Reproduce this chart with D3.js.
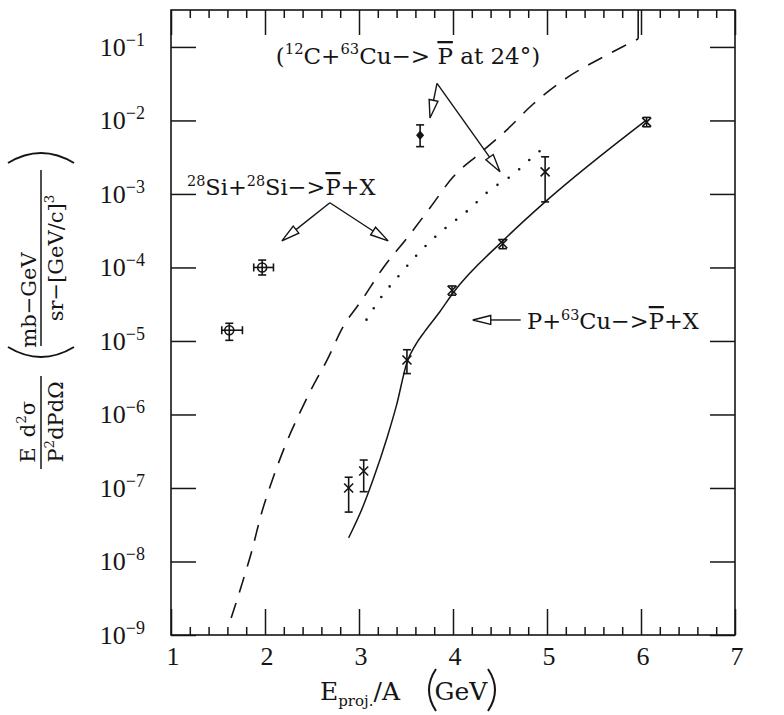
<!DOCTYPE html>
<html>
  <head>
    <meta charset="utf-8">
    <style>
      body { margin: 0; background: #fff; }
      svg { display: block; }
      text { font-family: "DejaVu Serif", serif; fill: #151515; }
      .tick-label { font-family: "Liberation Serif", serif; }
    </style>
    <script src="https://d3js.org/d3.v7.min.js"></script>
  </head>
  <body>
    <script type="text/javascript">
      // antiproton production cross sections vs projectile energy per nucleon
      const W = 784;
      const H = 715;

      // tick labels
      const xTicks = [1, 2, 3, 4, 5, 6, 7];
      const yTicks = [1e-9, 1e-8, 1e-7, 1e-6, 1e-5, 1e-4, 1e-3, 1e-2, 1e-1];
      const yTickExp = ['9', '8', '7', '6', '5', '4', '3', '2', '1'];

      // p + 63Cu -> pbar + X, measured
      const pcuE = [2.89, 3.05, 3.51, 3.99, 4.53, 4.98, 6.06];
      const pcuXsec = [1.0e-7, 1.7e-7, 5.5e-6, 4.9e-5, 2.1e-4, 2.0e-3, 9.5e-3];
      const pcuLow = [4.7e-8, 8.9e-8, 3.6e-6, 4.2e-5, 1.8e-4, 7.8e-4, 8.2e-3];
      const pcuHigh = [1.4e-7, 2.4e-7, 7.6e-6, 5.6e-5, 2.4e-4, 3.2e-3, 1.1e-2];

      // 28Si + 28Si -> pbar + X, measured
      const siE = [1.62, 1.97];
      const siELow = [1.54, 1.88];
      const siEHigh = [1.76, 2.09];
      const siXsec = [1.4e-5, 1.0e-4];
      const siLow = [1.02e-5, 7.9e-5];
      const siHigh = [1.74e-5, 1.26e-4];

      // 12C + 63Cu -> pbar at 24 deg, measured
      const cE = [3.65];
      const cXsec = [6.3e-3];
      const cLow = [4.4e-3];
      const cHigh = [8.7e-3];

      // calculations
      const siCalcE = [1.64, 1.75, 1.86, 1.96, 2.07, 2.23, 2.37, 2.50, 2.66, 2.83, 3.03, 3.26,
        3.51, 3.76, 4.00, 4.29, 4.57, 4.85, 5.21, 5.59, 5.80, 5.97];
      const siCalcXsec = [1.7e-9, 4.7e-9, 1.4e-8, 4.4e-8, 1.2e-7, 4.2e-7, 1.05e-6, 2.3e-6, 5.5e-6,
        1.55e-5, 3.6e-5, 1.0e-4, 2.5e-4, 6.6e-4, 1.7e-3, 3.6e-3, 7.4e-3, 1.66e-2, 3.8e-2, 7.2e-2,
        0.10, 0.129];
      const siCalcTop = 0.318;

      const cCalcE = [3.08, 3.24, 3.43, 3.62, 3.83, 4.16, 4.39, 4.63, 4.85, 4.98];
      const cCalcXsec = [1.95e-5, 4.0e-5, 7.9e-5, 1.5e-4, 2.75e-4, 6.0e-4, 1.12e-3, 1.8e-3,
        3.2e-3, 4.4e-3];

      const pcuCalcE = [2.89, 3.04, 3.15, 3.30, 3.40, 3.51, 3.60, 3.70, 3.86, 4.00, 4.53, 4.98, 6.06];
      const pcuCalcXsec = [2.1e-8, 5.5e-8, 1.3e-7, 4.9e-7, 1.35e-6, 5.1e-6, 8.8e-6, 1.35e-5,
        2.5e-5, 4.5e-5, 2.3e-4, 7.8e-4, 1.02e-2];

      const svg = d3.select('body')
        .append('svg')
        .attr('width', W)
        .attr('height', H);

      const x = d3.scaleLinear().domain([1, 7]).range([171, 735]);
      const y = d3.scaleLog().domain([1e-9, 0.318]).range([635, 10]);

      // ticks
      const xMinor = d3.range(1, 7.001, 0.2).filter((v) => Math.abs(v - Math.round(v)) > 0.01);
      const strip = (g) => {
        g.select('.domain').remove();
        g.selectAll('line').attr('stroke', '#151515').attr('stroke-width', 1.5);
      };
      const addAxis = (axis, tr) => svg.append('g')
        .attr('transform', tr)
        .call(axis.tickSizeOuter(0).tickFormat(''))
        .call(strip);

      addAxis(d3.axisBottom(x).tickValues(xMinor).tickSize(-8), 'translate(0,635)');
      addAxis(d3.axisBottom(x).tickValues(xTicks).tickSize(-26), 'translate(0,635)');
      addAxis(d3.axisTop(x).tickValues(xMinor).tickSize(-8), 'translate(0,10)');
      addAxis(d3.axisTop(x).tickValues(xTicks).tickSize(-25), 'translate(0,10)');
      addAxis(d3.axisLeft(y).tickValues(yTicks).tickSize(-25), 'translate(171,0)');
      addAxis(d3.axisRight(y).tickValues(yTicks).tickSize(-25), 'translate(735,0)');

      svg.append('rect')
        .attr('x', x(1)).attr('y', y(0.318))
        .attr('width', x(7) - x(1)).attr('height', y(1e-9) - y(0.318))
        .attr('fill', 'none').attr('stroke', '#151515').attr('stroke-width', 1.6);

      // text with super/subscripts and overlines
      function rich(parent, x0, y0, anchor, size, parts) {
        const t = parent.append('text')
          .attr('x', x0).attr('y', y0)
          .attr('text-anchor', anchor)
          .style('font-size', size + 'px');
        let shift = 0;
        parts.forEach(([s, k]) => {
          const target = k === 's' ? -0.42 * size : k === 'b' ? 0.3 * size : 0;
          const ts = t.append('tspan').attr('dy', target - shift).text(s);
          shift = target;
          if (k === 's' || k === 'b') ts.style('font-size', (size * 0.64) + 'px');
          if (k === 'o') ts.style('text-decoration', 'overline');
        });
        return t;
      }

      // tick labels
      xTicks.forEach((v) => {
        svg.append('text').attr('class', 'tick-label')
          .attr('x', x(v) + 2).attr('y', 665)
          .attr('text-anchor', 'middle')
          .style('font-size', '26px')
          .text(v);
      });
      yTicks.forEach((v, i) => {
        const t = svg.append('text').attr('class', 'tick-label')
          .attr('x', 145).attr('y', y(v) + 9)
          .attr('text-anchor', 'end')
          .style('font-size', '26px');
        t.append('tspan').text('10');
        t.append('tspan').attr('dy', -10).style('font-size', '18px').text('\u2212' + yTickExp[i]);
      });

      // axis titles
      const xt = svg.append('text').attr('x', 320).attr('y', 700).style('font-size', '25px');
      xt.append('tspan').text('E');
      xt.append('tspan').attr('dy', 6).style('font-size', '15px').text('proj.');
      xt.append('tspan').attr('dy', -6).text('/A');
      svg.append('text').attr('x', 461).attr('y', 700)
        .attr('text-anchor', 'middle').style('font-size', '25px').text('GeV');
      const paren = (cx, top, bottom, bulge) => svg.append('path')
        .attr('d', `M${cx},${top} Q${cx - bulge},${(top + bottom) / 2} ${cx},${bottom}`)
        .attr('fill', 'none').attr('stroke', '#151515').attr('stroke-width', 2);
      paren(436, 669, 711, 14);
      paren(488, 669, 711, -14);

      const yl = svg.append('g');
      const rot = (cx, cy, size, parts) =>
        rich(yl.append('g').attr('transform', `translate(${cx},${cy}) rotate(-90)`),
          0, 0, 'middle', size, parts);
      rot(35, 455, 21, [['E', 'n']]);
      rot(35, 419, 21, [['d', 'n'], ['2', 's'], ['\u03c3', 'n']]);
      rot(63, 422, 21, [['P', 'n'], ['2', 's'], ['dPd\u03a9', 'n']]);
      rot(36, 300, 21, [['mb\u2212GeV', 'n']]);
      rot(63, 258, 21, [['sr\u2212[GeV/c]', 'n'], ['3', 's']]);
      yl.append('line').attr('x1', 41).attr('x2', 41).attr('y1', 376).attr('y2', 469)
        .attr('stroke', '#151515').attr('stroke-width', 1.5);
      yl.append('line').attr('x1', 41).attr('x2', 41).attr('y1', 170).attr('y2', 346)
        .attr('stroke', '#151515').attr('stroke-width', 1.5);
      yl.append('path').attr('d', 'M8,347 Q41,367 74,347')
        .attr('fill', 'none').attr('stroke', '#151515').attr('stroke-width', 2);
      yl.append('path').attr('d', 'M8,163 Q41,143 74,163')
        .attr('fill', 'none').attr('stroke', '#151515').attr('stroke-width', 2);

      // calculated curves
      const line = d3.line()
        .x((d) => x(d[0]))
        .y((d) => y(d[1]))
        .curve(d3.curveMonotoneX);
      const plot = svg.append('g').attr('fill', 'none').attr('stroke', '#151515');

      plot.append('path')
        .attr('d', line(d3.zip(siCalcE, siCalcXsec)))
        .attr('stroke-width', 1.6)
        .attr('stroke-dasharray', '16 11');
      plot.append('line')
        .attr('x1', x(siCalcE[siCalcE.length - 1])).attr('x2', x(siCalcE[siCalcE.length - 1]))
        .attr('y1', y(siCalcXsec[siCalcXsec.length - 1])).attr('y2', y(siCalcTop))
        .attr('stroke-width', 1.6);
      plot.append('path')
        .attr('d', line(d3.zip(cCalcE, cCalcXsec)))
        .attr('stroke-width', 2.6)
        .attr('stroke-linecap', 'round')
        .attr('stroke-dasharray', '0 13.5');
      plot.append('path')
        .attr('d', line(d3.zip(pcuCalcE, pcuCalcXsec)))
        .attr('stroke-width', 1.5);

      // error bars
      const cap = 4;
      function vErr(g, xv, lo, hi) {
        g.append('line').attr('x1', x(xv)).attr('x2', x(xv)).attr('y1', y(lo)).attr('y2', y(hi));
        [lo, hi].forEach((v) => g.append('line')
          .attr('x1', x(xv) - cap).attr('x2', x(xv) + cap).attr('y1', y(v)).attr('y2', y(v)));
      }
      function hErr(g, yv, lo, hi) {
        g.append('line').attr('x1', x(lo)).attr('x2', x(hi)).attr('y1', y(yv)).attr('y2', y(yv));
        [lo, hi].forEach((v) => g.append('line')
          .attr('x1', x(v)).attr('x2', x(v)).attr('y1', y(yv) - cap).attr('y2', y(yv) + cap));
      }

      const marks = svg.append('g').attr('stroke', '#151515').attr('stroke-width', 1.6).attr('fill', 'none');
      pcuE.forEach((e, i) => {
        vErr(marks, e, pcuLow[i], pcuHigh[i]);
        const px = x(e), py = y(pcuXsec[i]), s = 4.5;
        marks.append('path').attr('d', `M${px - s},${py - s}L${px + s},${py + s}M${px - s},${py + s}L${px + s},${py - s}`);
      });
      siE.forEach((e, i) => {
        vErr(marks, e, siLow[i], siHigh[i]);
        hErr(marks, siXsec[i], siELow[i], siEHigh[i]);
        marks.append('circle').attr('cx', x(e)).attr('cy', y(siXsec[i])).attr('r', 4.5);
      });
      cE.forEach((e, i) => {
        vErr(marks, e, cLow[i], cHigh[i]);
        const px = x(e), py = y(cXsec[i]);
        marks.append('path').attr('d', `M${px},${py - 3.5}L${px + 3},${py}L${px},${py + 3.5}L${px - 3},${py}Z`)
          .attr('fill', '#151515');
      });

      // annotations (positions in data space)
      const siApex = [2.69, 7.6e-4];
      const siTips = [[2.18, 2.3e-4], [3.31, 2.3e-4]];
      const cApex = [3.83, 3.2e-2];
      const cTips = [[3.755, 1.08e-2], [4.50, 2.0e-3]];
      const pArrowFrom = [4.72, 1.93e-5];
      const pArrowTip = [4.21, 1.93e-5];

      const ann = svg.append('g').attr('stroke', '#151515').attr('stroke-width', 1.4);
      function arrow(from, to) {
        const x1 = x(from[0]), y1 = y(from[1]), x2 = x(to[0]), y2 = y(to[1]);
        const len = Math.hypot(x2 - x1, y2 - y1);
        const ux = (x2 - x1) / len, uy = (y2 - y1) / len;
        const L = 18, Wd = 4.5;
        const bx = x2 - ux * L, by = y2 - uy * L;
        ann.append('line').attr('x1', x1).attr('y1', y1).attr('x2', bx).attr('y2', by);
        ann.append('path')
          .attr('d', `M${x2},${y2}L${bx - uy * Wd},${by + ux * Wd}L${bx + uy * Wd},${by - ux * Wd}Z`)
          .attr('fill', '#fff');
      }
      siTips.forEach((t) => arrow(siApex, t));
      cTips.forEach((t) => arrow(cApex, t));
      arrow(pArrowFrom, pArrowTip);

      rich(svg, 408, 64, 'middle', 23, [['(', 'n'], ['12', 's'], ['C+', 'n'], ['63', 's'],
        ['Cu\u2212> ', 'n'], ['P', 'o'], [' at 24\u00b0)', 'n']]);
      rich(svg, 187, 195, 'start', 22.5, [['28', 's'], ['Si+', 'n'], ['28', 's'],
        ['Si\u2212>', 'n'], ['P', 'o'], ['+X', 'n']]);
      rich(svg, 527, 329, 'start', 22.5, [['P+', 'n'], ['63', 's'], ['Cu\u2212>', 'n'],
        ['P', 'o'], ['+X', 'n']]);
    </script>
  </body>
</html>
